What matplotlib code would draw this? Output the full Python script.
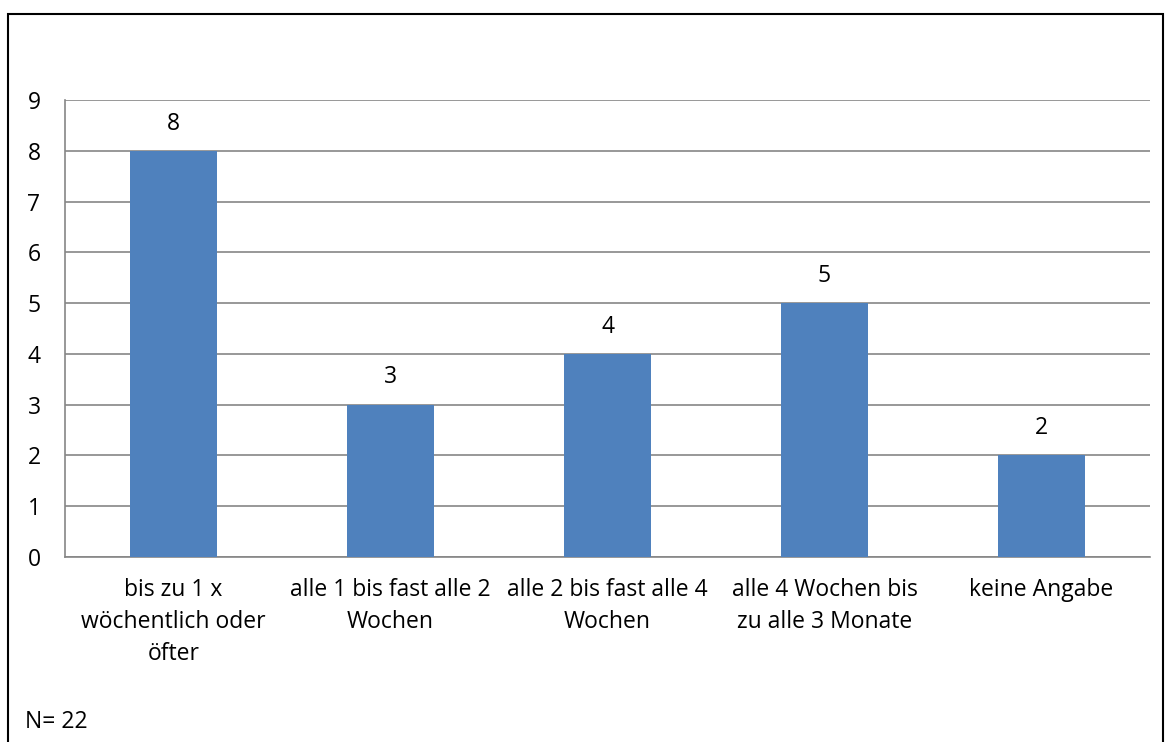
import matplotlib.pyplot as plt
from matplotlib.patches import Rectangle

categories = ["bis zu 1 x\nwöchentlich oder\nöfter",
              "alle 1 bis fast alle 2\nWochen",
              "alle 2 bis fast alle 4\nWochen",
              "alle 4 Wochen bis\nzu alle 3 Monate",
              "keine Angabe"]
counts = [8, 3, 4, 5, 2]
yticks = list(range(0, 10))

plt.rcParams["font.family"] = ["Open Sans", "DejaVu Sans"]
fs = 16.5

fig = plt.figure(figsize=(11.67, 7.42), dpi=100)
ax = fig.add_axes([65 / 1167, 1 - 557 / 742, (1150 - 65) / 1167, (557 - 100) / 742])

x = range(len(categories))
ax.bar(x, counts, width=0.4, color="#4F81BD", zorder=3)
for i, v in zip(x, counts):
    ax.text(i, v + 0.3, str(v), ha="center", va="bottom", fontsize=fs)

ax.set_xlim(-0.5, len(categories) - 0.5)
ax.set_ylim(0, 9)
ax.set_yticks(yticks)
ax.set_yticklabels([str(t) for t in yticks], fontsize=fs)
ax.set_xticks(list(x))
ax.set_xticklabels(categories, fontsize=fs, linespacing=1.45)
ax.tick_params(axis="x", length=0, pad=15)
ax.grid(axis="y", color="#868686", linewidth=1.2, zorder=0)
for s in ["top", "right"]:
    ax.spines[s].set_visible(False)
for s in ["left", "bottom"]:
    ax.spines[s].set_color("#868686")
    ax.spines[s].set_linewidth(1.2)
for lbl in ax.get_yticklabels():
    lbl.set_horizontalalignment("left")
ax.tick_params(axis="y", length=0, pad=27)

fig.patches.append(Rectangle((8 / 1167, -0.05), (1163 - 8) / 1167, 1.05 - 14 / 742,
                             transform=fig.transFigure, fill=False,
                             edgecolor="black", linewidth=1.5))
fig.text(25 / 1167, 1 - 722 / 742, "N= 22", fontsize=fs, va="center")

plt.savefig("out.png", dpi=100)
plt.close()
